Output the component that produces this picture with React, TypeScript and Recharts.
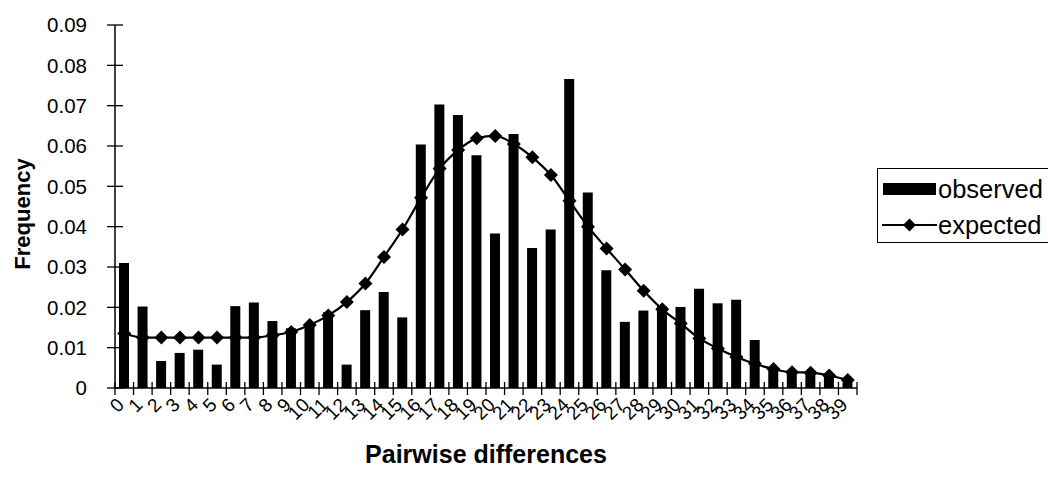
import React from 'react';
import { ComposedChart, Bar, Line, XAxis, YAxis, Label } from 'recharts';

const categories = [
  '0', '1', '2', '3', '4', '5', '6', '7', '8', '9',
  '10', '11', '12', '13', '14', '15', '16', '17', '18', '19',
  '20', '21', '22', '23', '24', '25', '26', '27', '28', '29',
  '30', '31', '32', '33', '34', '35', '36', '37', '38', '39',
];

const observed = [
  0.031, 0.0202, 0.0067, 0.0087, 0.0095, 0.0058, 0.0203, 0.0212, 0.0166, 0.0148,
  0.016, 0.0188, 0.0058, 0.0193, 0.0238, 0.0175, 0.0604, 0.0703, 0.0677, 0.0577,
  0.0383, 0.063, 0.0347, 0.0393, 0.0766, 0.0485, 0.0292, 0.0164, 0.0192, 0.0203,
  0.0201, 0.0246, 0.021, 0.0219, 0.0119, 0.0042, 0.0036, 0.0035, 0.0029, 0.0014,
];

const expected = [
  0.0135, 0.0125, 0.0125, 0.0125, 0.0125, 0.0125, 0.0125, 0.0125, 0.0131, 0.0139,
  0.0156, 0.018, 0.0213, 0.0259, 0.0325, 0.0393, 0.0472, 0.0544, 0.059, 0.0619,
  0.0625, 0.0605, 0.0572, 0.0528, 0.0464, 0.04, 0.0346, 0.0294, 0.0241, 0.0195,
  0.016, 0.0123, 0.0098, 0.0077, 0.006, 0.0047, 0.0039, 0.0038, 0.0031, 0.002,
];

const yTicks = [0, 0.01, 0.02, 0.03, 0.04, 0.05, 0.06, 0.07, 0.08, 0.09];

const seriesNames = ['observed', 'expected'];

const data = categories.map((c, i) => ({ label: c, observed: observed[i], expected: expected[i] }));

const W = 1048;
const H = 489;
const MARGIN = { top: 25, right: 191, bottom: 0, left: 0 };
const Y_W = 115;
const X_H = 101;
const PLOT_LEFT = MARGIN.left + Y_W;
const PLOT_RIGHT = W - MARGIN.right;
const PLOT_BOTTOM = H - MARGIN.bottom - X_H;
const BAND = (PLOT_RIGHT - PLOT_LEFT) / categories.length;
const FONT = "'Liberation Sans', Arial, sans-serif";

const XTick = (props: any) => {
  const { x, payload, index } = props;
  const left = x - BAND / 2;
  const last = index === categories.length - 1;
  return (
    <g>
      <line x1={left} x2={left} y1={PLOT_BOTTOM - 6} y2={PLOT_BOTTOM + 7} stroke="#000" strokeWidth={1.3} />
      {last && (
        <line x1={x + BAND / 2} x2={x + BAND / 2} y1={PLOT_BOTTOM - 6} y2={PLOT_BOTTOM + 7} stroke="#000" strokeWidth={1.3} />
      )}
      <text
        transform={`translate(${x + 1},${PLOT_BOTTOM + 18}) rotate(-45)`}
        textAnchor="end"
        fontSize={19}
        fontFamily={FONT}
        fill="#000"
      >
        {payload.value}
      </text>
    </g>
  );
};

const YTick = (props: any) => {
  const { y, payload } = props;
  const v = payload.value as number;
  const txt = v === 0 ? '0' : v.toFixed(2);
  return (
    <g>
      <line x1={PLOT_LEFT - 8} x2={PLOT_LEFT + 8} y1={y} y2={y} stroke="#000" strokeWidth={1.3} />
      <text x={PLOT_LEFT - 28} y={y} dy="0.36em" textAnchor="end" fontSize={20.5} fontFamily={FONT} fill="#000">
        {txt}
      </text>
    </g>
  );
};

const Diamond = (props: any) => {
  const { cx, cy, index } = props;
  if (cx == null || cy == null) return <g key={`d${index}`} />;
  const r = 7;
  return (
    <path
      key={`d${index}`}
      d={`M${cx},${cy - r} L${cx + r},${cy} L${cx},${cy + r} L${cx - r},${cy} Z`}
      fill="#000"
    />
  );
};

const LegendBox = () => (
  <div
    style={{
      position: 'absolute',
      left: 877,
      top: 168,
      width: 180,
      height: 75,
      border: '1.5px solid #000',
      borderRight: 'none',
      boxSizing: 'border-box',
      background: '#fff',
    }}
  >
    <svg width={178} height={73} style={{ display: 'block' }}>
      <rect x={5} y={14} width={53} height={12} fill="#000" />
      <text x={60} y={29} fontSize={25.5} fontFamily={FONT} fill="#000">{seriesNames[0]}</text>
      <line x1={4} x2={59} y1={56} y2={56} stroke="#000" strokeWidth={2.2} />
      <path d="M31.5,49.5 L38,56 L31.5,62.5 L25,56 Z" fill="#000" />
      <text x={60} y={65} fontSize={25.5} fontFamily={FONT} fill="#000">{seriesNames[1]}</text>
    </svg>
  </div>
);

export default function App() {
  return (
    <div style={{ position: 'absolute', left: 0, top: 0, width: W, height: H, background: '#fff', overflow: 'hidden' }}>
      <ComposedChart width={W} height={H} data={data} margin={MARGIN}>
        <XAxis
          dataKey="label"
          interval={0}
          height={X_H}
          tick={<XTick />}
          tickLine={false}
          axisLine={{ stroke: '#000', strokeWidth: 1.5 }}
        >
          <Label
            content={() => (
              <text x={(PLOT_LEFT + PLOT_RIGHT) / 2} y={H - 26} textAnchor="middle" fontSize={25} fontWeight="bold" fontFamily={FONT} fill="#000">
                Pairwise differences
              </text>
            )}
          />
        </XAxis>
        <YAxis
          width={Y_W}
          domain={[0, 0.09]}
          ticks={yTicks}
          interval={0}
          tick={<YTick />}
          tickLine={false}
          axisLine={{ stroke: '#000', strokeWidth: 1.5 }}
        >
          <Label
            content={() => (
              <text transform={`translate(30, 214) rotate(-90)`} textAnchor="middle" fontSize={22} fontWeight="bold" fontFamily={FONT} fill="#000">
                Frequency
              </text>
            )}
          />
        </YAxis>
        <Bar dataKey="observed" name={seriesNames[0]} fill="#000" barSize={10} isAnimationActive={false} />
        <Line
          dataKey="expected"
          name={seriesNames[1]}
          type="monotone"
          stroke="#000"
          strokeWidth={2.2}
          dot={<Diamond />}
          activeDot={false}
          isAnimationActive={false}
        />
      </ComposedChart>
      <LegendBox />
    </div>
  );
}
